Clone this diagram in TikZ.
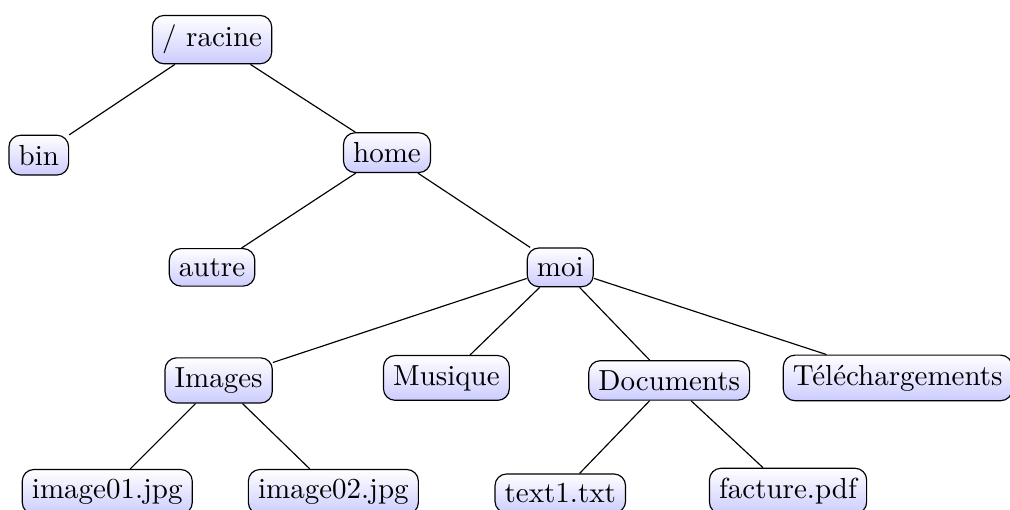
\documentclass[tikz,border=0pt]{standalone}
\usepackage{tikz}
\usetikzlibrary{shadings}

\tikzset{dossier/.style={draw, rounded corners, top color=white, bottom color=blue!20}}

\begin{document}
\begin{tikzpicture}
			%%%%% START %%%%%
			
			\useasboundingbox (0, 0) rectangle (12.24, -6.17);
			
			\node[dossier] (racine) at (2.57, -0.48) {/ racine};
			\node[dossier] (bin) at (0.47, -1.88) {bin};
			\node[dossier] (home) at (4.69, -1.85) {home};
			
			\node[dossier] (autre) at (2.57, -3.24) {autre};
			\node[dossier] (moi) at (6.79, -3.24) {moi};
			
			\node[dossier] (images) at (2.65, -4.61) {Images};
			\node[dossier] (musique) at (5.41, -4.58) {Musique};
			\node[dossier] (documents) at (8.11, -4.61) {Documents};
			\node[dossier] (telech) at (10.88, -4.58) {Téléchargements};
			
			\node[dossier] (img1) at (1.30, -5.96) {image01.jpg};
			\node[dossier] (img2) at (4.04, -5.96) {image02.jpg};
			\node[dossier] (texte) at (6.79, -5.98) {text1.txt};
			\node[dossier] (facture) at (9.55, -5.95) {facture.pdf};
			
			\draw (racine) -- (bin);
			\draw (racine) -- (home);
			\draw (home) -- (autre);
			\draw (home) -- (moi);
			\draw (moi) -- (images);
			\draw (moi) -- (musique);
			\draw (moi) -- (documents);
			\draw (moi) -- (telech);
			\draw (images) -- (img1);
			\draw (images) -- (img2);
			\draw (documents) -- (texte);
			\draw (documents) -- (facture);
			
			%%%%% END %%%%%
		\end{tikzpicture}
\end{document}
